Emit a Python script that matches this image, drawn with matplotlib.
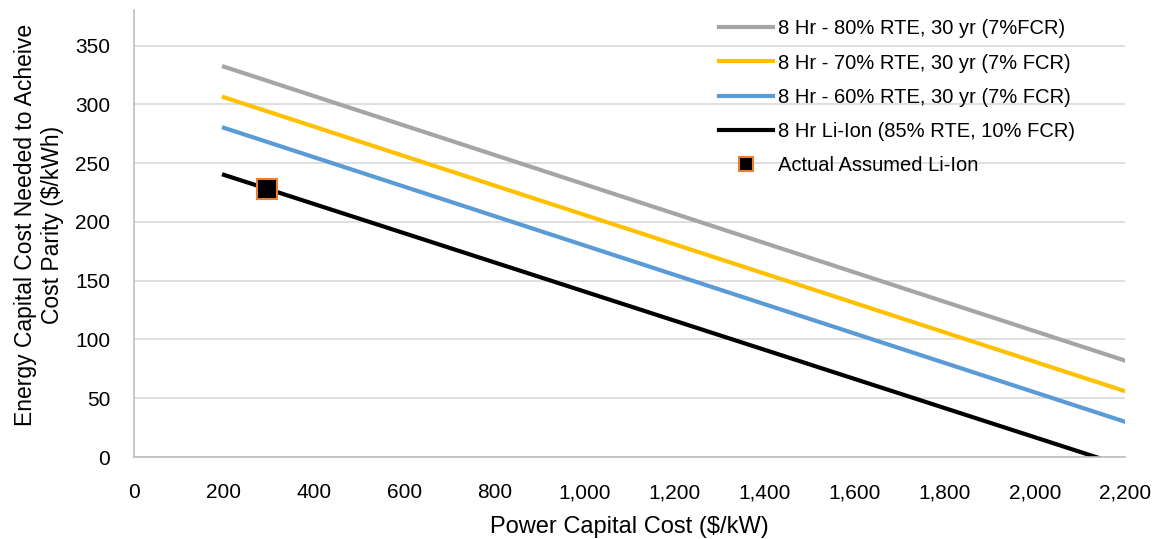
import matplotlib.pyplot as plt
import matplotlib as mpl
from matplotlib.ticker import FuncFormatter

mpl.rcParams['font.family'] = ['Liberation Sans', 'DejaVu Sans']

# data
power_cost = [200, 2200]
rte80 = [332, 82]
rte70 = [306, 56]
rte60 = [280, 30]
liion = [240, -8]
actual_x = [295]
actual_y = [228]

labels = ['8 Hr - 80% RTE, 30 yr (7%FCR)',
          '8 Hr - 70% RTE, 30 yr (7% FCR)',
          '8 Hr - 60% RTE, 30 yr (7% FCR)',
          '8 Hr Li-Ion (85% RTE, 10% FCR)',
          'Actual Assumed Li-Ion']

fig = plt.figure(figsize=(11.54, 5.39), dpi=100)
ax = fig.add_subplot(111)

ax.plot(power_cost, rte80, '-', color='#a5a5a5', lw=3, label=labels[0])
ax.plot(power_cost, rte70, '-', color='#ffc000', lw=3, label=labels[1])
ax.plot(power_cost, rte60, '-', color='#5b9bd5', lw=3, label=labels[2])
ax.plot(power_cost, liion, '-', color='black', lw=3, label=labels[3])
ax.plot(actual_x, actual_y, 's', color='black', mec='#ed7d31', mew=1.5,
        ms=15, ls='none', label=labels[4])

ax.axis([0, 2200, 0, 380])
ax.set_xticks(range(0, 2201, 200))
ax.set_yticks(range(0, 351, 50))
ax.xaxis.set_major_formatter(FuncFormatter(lambda v, p: f'{int(v):,}'))
ax.grid(axis='y', color='#d9d9d9', lw=1.2)
ax.set_axisbelow(True)
for s in ['top', 'right']:
    ax.spines[s].set_visible(False)
ax.spines['left'].set_color('#bfbfbf')
ax.spines['bottom'].set_color('#bfbfbf')
ax.spines['left'].set_linewidth(1.2)
ax.spines['bottom'].set_linewidth(1.2)
ax.tick_params(length=0, labelsize=15, colors='black')
ax.tick_params(axis='x', pad=19)
ax.tick_params(axis='y', pad=17)

ax.set_xlabel('Power Capital Cost ($/kW)', fontsize=17, labelpad=10)
ax.set_ylabel('Energy Capital Cost Needed to Acheive\nCost Parity ($/kWh)',
              fontsize=16.5, labelpad=8, linespacing=1.2)
ax.yaxis.label.set_y(0.52)

ax.legend(loc='upper right', bbox_to_anchor=(0.968, 1.02), fontsize=14.5, frameon=False,
          handlelength=2.7, handletextpad=0.25, labelspacing=0.75, markerscale=0.65)

fig.subplots_adjust(top=0.981, bottom=0.152, left=0.116, right=0.975)
fig.savefig('out.png', dpi=100)
